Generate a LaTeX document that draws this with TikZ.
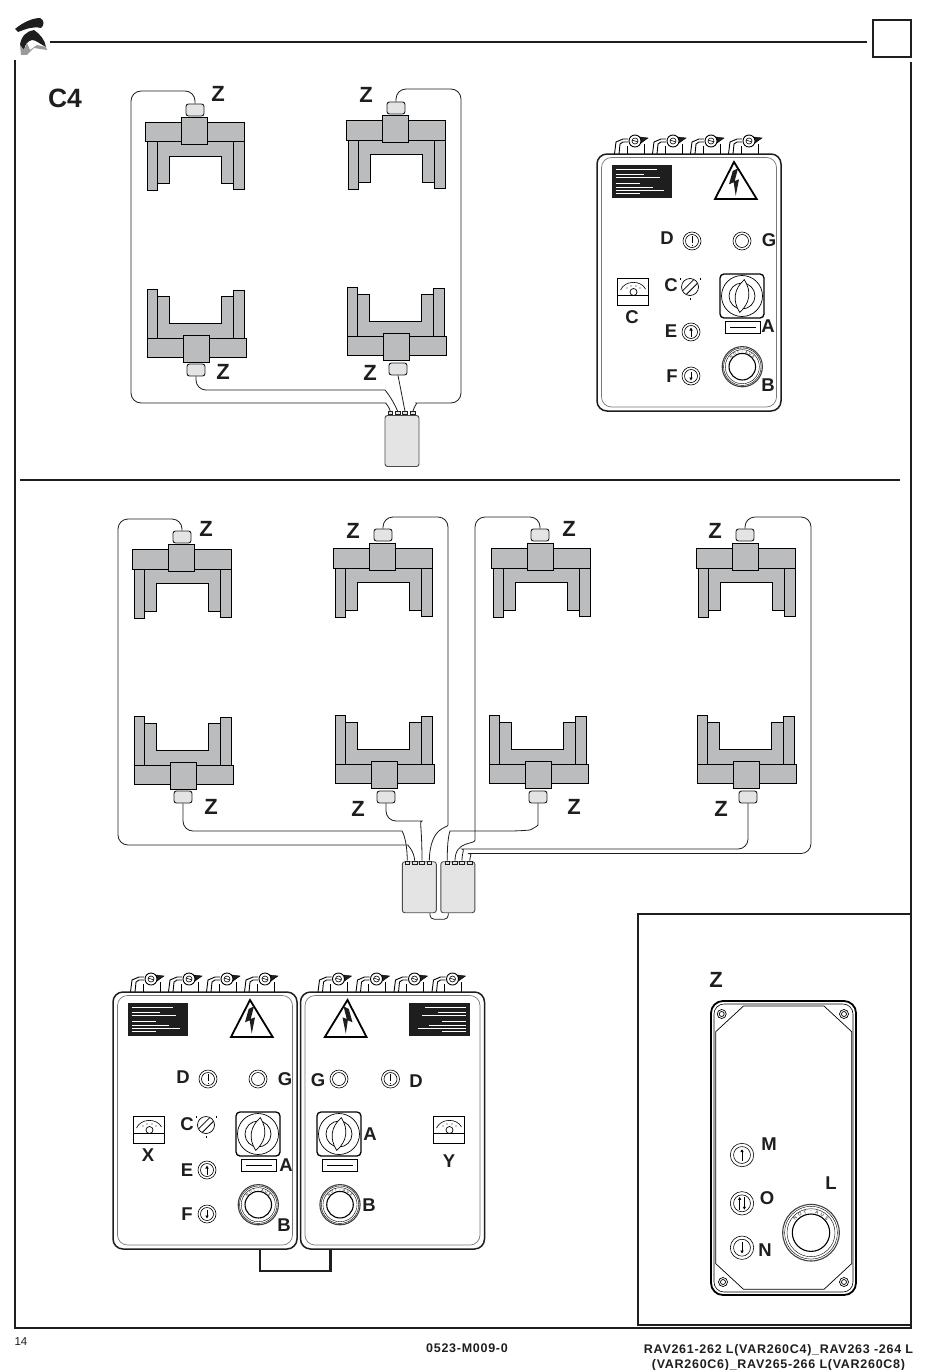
\documentclass[tikz,border=0pt]{standalone}
\usepackage{fontspec}
\setmainfont{Liberation Sans}
\usetikzlibrary{arrows.meta}
\definecolor{steel}{HTML}{BBBCBE}
\definecolor{boxgrey}{HTML}{E4E4E4}
\definecolor{ink}{HTML}{1E1E1E}
\newcommand{\griplegs}{%
  \draw[fill=steel, line width=.8pt] (-47,11) -- (-47,60) -- (-37,60) -- (-37,53) -- (-25,53) -- (-25,25.5) -- (27,25.5) -- (27,53) -- (39,53) -- (39,59) -- (50,59) -- (50,11) -- cycle;
  \draw[line width=.8pt] (-37,11) -- (-37,53) (39,11) -- (39,53);}
\newcommand{\gripbar}{%
  \draw[fill=steel, line width=.8pt] (-49,-8.5) rectangle (50,11);
  \draw[fill=steel, line width=.8pt] (-13,-13.5) rectangle (13,13.5);}
\newcommand{\btnrings}{\draw[line width=.6pt] (0,0) circle (9) circle (6.5);}
\tikzset{
  sensor/.style={draw=ink, fill=boxgrey, rounded corners=2.5pt, line width=.9pt, inner sep=0pt, minimum width=18pt, minimum height=12pt},
  jbox/.style={draw=ink!80, fill=boxgrey, rounded corners=2.5pt, line width=.9pt, inner sep=0pt, minimum width=34pt, minimum height=51pt},
  port/.style={draw=ink, fill=boxgrey, line width=.6pt, inner sep=0pt, minimum width=4.5pt, minimum height=3pt},
  wire/.style={draw=ink, line width=.8pt, rounded corners=10pt},
  lbl/.style={text=ink, inner sep=0pt, font=\bfseries\fontsize{18.5}{20}\selectfont},
  zlbl/.style={text=ink, inner sep=0pt, font=\bfseries\fontsize{22}{24}\selectfont},
  rule/.style={draw=ink, line width=1.6pt},
  gripper/.pic={
    \griplegs
    \gripbar
  },
  gripperdn/.pic={
    \begin{scope}[xshift=-1.7pt]
      \griplegs
    \end{scope}
    \gripbar
  },
  gland/.pic={
    \draw[line width=.9pt] (-20.5,13) -- (-19,1) -- (-12,-2) -- (-7,-2);
    \draw[line width=.9pt] (-16,13) -- (-15,3) -- (-12,1) -- (-7,1);
    \draw[line width=.8pt] (-8,13) -- (-8,5) (9,13) -- (9,3);
    \draw[fill=ink] (5,-4) -- (13,-3) -- (6,2) -- cycle;
    \draw[fill=white, line width=.9pt] (0,0) circle (6);
    \draw[line width=.6pt] (0,0) circle (3) (-3,-1) -- (3,1);
  },
  cabinet/.pic={
    \foreach \gx in {38,76,114,152}
      \pic at (\gx,-13) {gland};
    \draw[fill=white, draw=ink, line width=1.5pt, rounded corners=10pt] (0,0) rectangle (184,257);
    \draw[draw=ink!60, line width=.7pt, rounded corners=10pt] (4.5,3.5) rectangle (179.5,253);
  },
  warnsign/.pic={
    \fill[ink] (14.7,11) rectangle (75.3,44.3);
    \foreach \yy/\xx in {15/59.7, 20.3/47, 23/63, 29.3/43, 33.3/55.7, 36.7/67, 39.3/43}
      \draw[white, line width=.7pt] (18.7,\yy) -- (\xx,\yy);
    \draw[fill=white, line width=1.8pt, line join=miter] (137,8) -- (118,45) -- (159.7,45) -- cycle;
    \fill[ink] (135.7,17) -- (132,30.3) -- (136.7,28.3) -- (138.7,41.7) -- (142,25.3) -- (137.7,27) -- (141,14.3) -- cycle;
  },
  pbtn/.pic={
    \btnrings
  },
  pbtnbar/.pic={
    \btnrings
    \draw[line width=.7pt] (0,-5) -- (0,2) (0,3.5) -- (0,4.5);
  },
  pbtnup/.pic={
    \btnrings
    \draw[line width=.9pt, -{Latex[length=3pt,width=3.8pt]}] (0,4.5) -- (0,-4.5);
  },
  pbtndown/.pic={
    \btnrings
    \draw[line width=.9pt, -{Latex[length=3pt,width=3.8pt]}] (0,-4.5) -- (0,4.5);
  },
  pbtnboth/.pic={
    \btnrings
    \draw[line width=.9pt, -{Latex[length=3pt,width=3.5pt]}] (-1.8,5) -- (-1.8,-5);
    \draw[line width=.9pt, -{Latex[length=3pt,width=3.5pt]}] (1.8,-5) -- (1.8,5);
  },
  selector/.pic={
    \draw[line width=.7pt] (0,0) circle (8.5);
    \foreach \hh in {-2.6, 2.6}
      \draw[line width=.8pt, rotate=45] (-7.8,\hh) -- (7.8,\hh);
    \draw[line width=.6pt] (-10,-9) -- (-10,-7) (10,-9) -- (10,-7) (0,10.5) -- (0,13);
  },
  meterbox/.pic={
    \draw[fill=white, line width=.8pt] (-15.7,-13.5) rectangle (15.7,13.5);
    \draw[line width=.8pt] (-15.7,3) -- (15.7,3);
    \draw[line width=.6pt] (-12.5,-2) .. controls (-8,-12) and (8,-12) .. (12.5,-3);
    \draw[line width=.7pt] (0.5,0) circle (3.5);
    \foreach \tx/\ty in {-6/-4, -2/-6, 3/-6, 7/-4}
      \fill[ink] (\tx,\ty) circle (.6);
  },
  rotary/.pic={
    \draw[line width=1.3pt, rounded corners=4pt] (-22,-22) rectangle (22,22);
    \draw[line width=.7pt] (0,0) circle (20.5);
    \draw[line width=.7pt] (0,0) circle (13);
    \draw[fill=white, line width=.7pt, rotate=-8] (0,-16.5) .. controls (-9,-6) and (-9,6) .. (0,16.5) .. controls (9,6) and (9,-6) .. (0,-16.5) -- cycle;
    \draw[line width=.8pt] (-16.3,25.7) rectangle (18,37.3);
    \draw[line width=1.3pt] (-12,31.7) -- (14,31.7);
  },
  screw/.pic={
    \draw[line width=.7pt] (0,0) circle (4.5) circle (2.5);
  },
}
\newcommand{\estop}[3]{%
  \begin{scope}[shift={#1}, scale=#2]
    \draw[line width=1.1pt, draw=ink!85] (0,0) circle (28.3);
    \draw[line width=.4pt] (0,0) circle (26.4) circle (24);
    \draw[line width=1.1pt] (0,0) circle (18.7);
    \foreach \ch/\ang in {N/222, O/238, T/254, -/270, A/286, U/302, S/318}
      \draw node[inner sep=0pt, rotate=270-\ang, font=\fontsize{#3}{#3}\selectfont] (aus\ang) at (\ang:21.3) {\ch};
  \end{scope}}

\begin{document}
\begin{tikzpicture}[x=1pt, y=-1pt]
  \useasboundingbox (0,0) rectangle (950,1370);

  % page frame
  \fill[ink] (15,29) .. controls (22,23) and (32,18) .. (40,18) .. controls (45,20) and (44,26) .. (41,28) .. controls (33,26) and (26,29) .. (18,32) -- cycle;
  \fill[ink] (20,45) .. controls (21,36) and (27,31) .. (34,30) .. controls (40,34) and (45,40) .. (46,47) .. controls (40,44) and (36,40) .. (32,40) .. controls (28,41) and (25,44) .. (24,50) -- cycle;
  \fill[ink!45] (20,45) -- (24,50) -- (27,43) -- (30,50) -- (37,45) -- (46,47) -- (47,50) -- (34,48) -- (27,55) -- (21,55) -- cycle;
  \draw[rule] (50,42) -- (867,42);
  \draw[draw=ink, line width=1.1pt] (873,20) rectangle (911,57);
  \draw[draw=ink, line width=1.3pt] (15,60) -- (15,1328) (911,62) -- (911,1328);
  \draw[draw=ink, line width=2pt] (14,1328) -- (912,1328);
  \draw[rule] (20,480) -- (900,480);
  \draw[draw=ink, line width=1.3pt] (911,914) -- (638,914) -- (638,1325) -- (911,1325);

  % C4
  \pic at (194,130.5) {gripper};
  \pic at (395,129) {gripper};
  \pic[yscale=-1] at (196.5,349) {gripperdn};
  \pic[yscale=-1] at (396.5,347) {gripperdn};

\begin{scope}[every node/.style={sensor}]
  \draw node (sa) at (195,110) {};
  \draw node (sb) at (396,108) {};
  \draw node (sc) at (196,370) {};
  \draw node (sd) at (398,369) {};
\end{scope}
  \draw node[jbox] (box) at (402,441) {};
\begin{scope}[every node/.style={port}]
  \draw node (p1) at (390.3,413) {};
  \draw node (p2) at (397.7,413) {};
  \draw node (p3) at (405,413) {};
  \draw node (p4) at (413,413) {};
\end{scope}
  \draw[wire] (sa.north) -- (195,91) -- (131,91) -- (131,403) -- (376,403) .. controls (385,403) and (389,406) .. (p1.north);
  \draw[wire] (sc.south) -- (196,390) -- (375,390) .. controls (385,390) and (392,398) .. (p2.north);
  \draw[wire] (sd.south) -- (p3.north);
  \draw[wire] (sb.north) -- (396,89) -- (461,89) -- (461,403) -- (426,403) .. controls (418,403) and (414,406) .. (p4.north);

\begin{scope}[every node/.style={zlbl}]
  \draw node (za) at (218,94) {Z};
  \draw node (zb) at (366,95) {Z};
  \draw node (zc) at (223,372) {Z};
  \draw node (zd) at (370,373) {Z};
  \draw node[font=\bfseries\fontsize{26.5}{28}\selectfont] (title) at (65,98.5) {C4};
\end{scope}

  % C4 panel
\begin{scope}[shift={(597,154)}]
  \pic at (0,0) {cabinet};
  \pic at (0,0) {warnsign};
  \pic at (95,87) {pbtnbar};
  \pic at (145,87) {pbtn};
  \pic at (93,133) {selector};
  \pic at (94,178) {pbtnup};
  \pic at (94,222) {pbtndown};
  \pic at (36,138) {meterbox};
  \pic at (145,142) {rotary};
  \estop{(145.3,212.7)}{.71}{3.5}
\end{scope}
\begin{scope}[every node/.style={lbl}]
  \draw node (ld) at (667,238) {D};
  \draw node (lg) at (769,240) {G};
  \draw node (lc) at (671,285) {C};
  \draw node (lm) at (632,317) {C};
  \draw node (le) at (671,331) {E};
  \draw node (lf) at (672,376) {F};
  \draw node (la) at (768,326) {A};
  \draw node (lb) at (768,385) {B};
\end{scope}

  % lower grippers
  \foreach \gx/\gy in {181.5/558, 382.5/557, 540.5/557, 745.5/557}
    \pic at (\gx,\gy) {gripper};
  \foreach \gx/\gy in {183.5/776, 384.5/775, 538.5/775, 746.5/775}
    \pic[yscale=-1] at (\gx,\gy) {gripperdn};

\begin{scope}[every node/.style={sensor}]
  \draw node (ua) at (182,537) {};
  \draw node (ub) at (383,535) {};
  \draw node (uc) at (540,535) {};
  \draw node (ud) at (745,535) {};
  \draw node (da) at (183,797) {};
  \draw node (db) at (386,797) {};
  \draw node (dc) at (538,797) {};
  \draw node (dd) at (748,797) {};
\end{scope}
  \draw node[jbox] (boxl) at (419.3,887.2) {};
  \draw node[jbox] (boxr) at (457.8,887.2) {};
  \draw[wire, rounded corners=4pt] (boxl.south) ++(10.7,0) -- ++(0,6) -- ++(18.3,0) -- ++(0,-6);
\begin{scope}[every node/.style={port}]
  \draw node (la1) at (407.3,862.5) {};
  \draw node (la2) at (414.7,862.5) {};
  \draw node (la3) at (422,862.5) {};
  \draw node (la4) at (429.3,862.5) {};
  \draw node (ra1) at (447.3,862.5) {};
  \draw node (ra2) at (455,862.5) {};
  \draw node (ra3) at (462,862.5) {};
  \draw node (ra4) at (469.7,862.5) {};
\end{scope}
  \draw[wire] (da.south) -- (183,831) -- (392,831) .. controls (402,831) and (407,838) .. (la1.north);
  \draw[wire] (ua.north) -- (182,519) -- (118,519) -- (118,845) -- (398,845) .. controls (407,845) and (414,850) .. (la2.north);
  \draw[wire] (db.south) -- (386,821) -- (412,821) .. controls (419,821) and (422,825) .. (la3.north);
  \draw[wire] (ub.north) -- (383,517) -- (448,517) -- (448,815) .. controls (448,828) and (430,826) .. (la4.north);
  \draw[wire] (dc.south) -- (538,815) .. controls (538,826) and (530,830) .. (520,831) -- (460,831) .. controls (450,831) and (447,838) .. (ra1.north);
  \draw[wire] (uc.north) -- (540,517) -- (475,517) -- (475,830) .. controls (475,845) and (455,840) .. (ra2.north);
  \draw[wire] (dd.south) -- (748,849) -- (472,849) .. controls (465,849) and (462,852) .. (ra3.north);
  \draw[wire] (ud.north) -- (745,517) -- (811,517) -- (811,853.5) -- (478,853.5) .. controls (473,853.5) and (470,855) .. (ra4.north);

\begin{scope}[every node/.style={zlbl}]
  \draw node (zua) at (206,529) {Z};
  \draw node (zub) at (353,531) {Z};
  \draw node (zuc) at (569,529) {Z};
  \draw node (zud) at (715,531) {Z};
  \draw node (zda) at (211,807) {Z};
  \draw node (zdb) at (358,809) {Z};
  \draw node (zdc) at (574,807) {Z};
  \draw node (zdd) at (721,809) {Z};
  \draw node (zpanel) at (716,980) {Z};
\end{scope}

  % double panel
\begin{scope}[shift={(113,992)}]
  \pic at (0,0) {cabinet};
  \pic at (0,0) {warnsign};
  \pic at (95,87) {pbtnbar};
  \pic at (145,87) {pbtn};
  \pic at (93,133) {selector};
  \pic at (94,178) {pbtnup};
  \pic at (94,222) {pbtndown};
  \pic at (36,138) {meterbox};
  \pic at (145,142) {rotary};
  \estop{(145.3,212.7)}{.71}{3.5}
\end{scope}
\begin{scope}[shift={(300.5,992)}]
  \pic at (0,0) {cabinet};
  \pic[xscale=-1] at (184,0) {warnsign};
  \pic at (90,87) {pbtnbar};
  \pic at (38.5,87) {pbtn};
  \pic at (148.5,138) {meterbox};
  \pic at (38.5,142) {rotary};
  \estop{(39.5,212.7)}{.71}{3.5}
\end{scope}
  \draw[draw=ink, line width=2.4pt] (260,1250) -- (260,1270.7) -- (330.3,1270.7) -- (330.3,1250);
\begin{scope}[every node/.style={lbl}]
  \draw node (ld2) at (183,1077) {D};
  \draw node (lg2) at (285,1079) {G};
  \draw node (lc2) at (187,1124) {C};
  \draw node (lx) at (148,1155) {X};
  \draw node (le2) at (187,1170) {E};
  \draw node (la2b) at (286,1165) {A};
  \draw node (lf2) at (187,1214) {F};
  \draw node (lb2) at (284,1225) {B};
  \draw node (lg3) at (318,1080) {G};
  \draw node (ld3) at (416,1081) {D};
  \draw node (la3b) at (370,1134) {A};
  \draw node (ly) at (449,1161) {Y};
  \draw node (lb3) at (369,1205) {B};
\end{scope}

  % Z panel
  \draw[line width=1.8pt, rounded corners=12pt] (711,1001) rectangle (856,1295);
  \draw[line width=.6pt, rounded corners=10pt] (714,1004) rectangle (853,1292);
  \draw[line width=.7pt] (743.5,1006) -- (824,1006) -- (851.7,1031.7) -- (851.7,1263.6) -- (824,1289.3) -- (743.5,1289.3) -- (715.7,1263.6) -- (715.7,1031.7) -- cycle;
  \foreach \sx/\sy in {721.7/1014, 844/1014, 723/1282, 844/1282}
    \pic at (\sx,\sy) {screw};
  \pic[scale=1.3] at (742,1155) {pbtnup};
  \pic[scale=1.3] at (742,1203.3) {pbtnboth};
  \pic[scale=1.3] at (742,1247.7) {pbtndown};
  \estop{(811,1232.7)}{1}{4.5}
\begin{scope}[every node/.style={lbl}]
  \draw node (lm2) at (769,1144) {M};
  \draw node (lo) at (767,1198) {O};
  \draw node (ln) at (765,1250) {N};
  \draw node (ll) at (831,1183) {L};
\end{scope}

  % footer
\begin{scope}[every node/.style={text=ink, inner sep=0pt, font=\fontsize{11.5}{13}\selectfont}]
  \draw node (page) at (21,1342) {14};
  \draw node[font=\bfseries\fontsize{12.5}{14}\selectfont\addfontfeatures{LetterSpace=5.8}] (code) at (467,1348) {0523-M009-0};
  \draw node[font=\bfseries\fontsize{12.5}{14}\selectfont\addfontfeatures{LetterSpace=5.8}] (refa) at (778.5,1350) {RAV261-262 L(VAR260C4)\_RAV263 -264 L};
  \draw node[font=\bfseries\fontsize{12.5}{14}\selectfont\addfontfeatures{LetterSpace=5.8}] (refb) at (778.5,1365) {(VAR260C6)\_RAV265-266 L(VAR260C8)};
\end{scope}
\end{tikzpicture}
\end{document}
